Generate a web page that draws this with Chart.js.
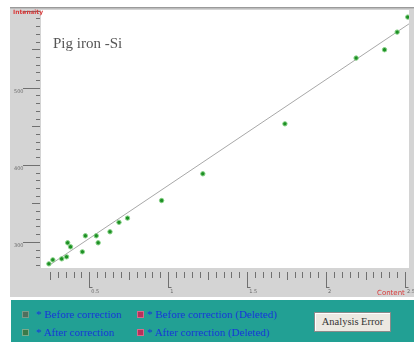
<!DOCTYPE html>
<html>
<head>
<meta charset="utf-8">
<script src="https://cdn.jsdelivr.net/npm/chart.js@4/dist/chart.umd.min.js"></script>
<style>
  html, body { margin: 0; padding: 0; background: #ffffff; }
  #wrap { position: relative; width: 414px; height: 342px; overflow: hidden; }
  #c { position: absolute; left: 0; top: 0; }
  #panel { position: absolute; left: 11px; top: 300px; width: 403px; height: 42px; background: #22a094; }
  .item { position: absolute; font-family: "Liberation Serif", serif; font-size: 11px; color: #1638d8; white-space: nowrap; line-height: 11px; }
  .mk { position: absolute; width: 5px; height: 5px; border: 1px solid; }
  #btn { position: absolute; left: 303px; top: 12px; width: 75px; height: 18px; background: #ece9e2; border: 1px solid #8a8a8a; box-shadow: inset 1px 1px 0 #fff; font-family: "Liberation Serif", serif; font-size: 10.5px; color: #333; text-align: center; line-height: 18px; }
</style>
</head>
<body>
<div id="wrap">
  <canvas id="c" width="414" height="342"></canvas>
  <div id="panel">
    <div class="mk" style="left:11px;top:11px;background:#4f6f5f;border-color:#7a9a8a;"></div>
    <div class="item" style="left:25px;top:9px;">* Before correction</div>
    <div class="mk" style="left:126px;top:11px;background:#b8305a;border-color:#d86a8a;"></div>
    <div class="item" style="left:136px;top:9px;">* Before correction (Deleted)</div>
    <div class="mk" style="left:11px;top:29px;background:#3a7a4a;border-color:#7aaa8a;"></div>
    <div class="item" style="left:25px;top:27px;">* After correction</div>
    <div class="mk" style="left:126px;top:29px;background:#b8305a;border-color:#d86a8a;"></div>
    <div class="item" style="left:136px;top:27px;">* After correction (Deleted)</div>
    <div id="btn">Analysis Error</div>
  </div>
</div>
<script>
// ---- data ----
const contentX = [0.244, 0.269, 0.325, 0.356, 0.363, 0.381, 0.456, 0.475, 0.544, 0.556,
                  0.631, 0.688, 0.742, 0.958, 1.219, 1.739, 2.19, 2.37, 2.45, 2.517];
const intensityY = [271.4, 276.6, 277.9, 280.5, 298.7, 293.5, 287.0, 307.8, 307.8, 298.7,
                    313.0, 325.3, 330.8, 353.6, 388.3, 453.2, 538.6, 549.4, 572.3, 591.8];
const fitX = [0.25, 2.525];
const fitY = [270, 583];
const xTickValues = [0.5, 1, 1.5, 2, 2.5];
const xTickLabels = ["0.5", "1", "1.5", "2", "2.5"];
const yTickValues = [300, 400, 500];
const yTickLabels = ["300", "400", "500"];
const chartTitle = "Pig iron -Si";
const yAxisTitle = "Intensity";
const xAxisTitle = "Content";

const points = contentX.map((x, i) => ({ x: x, y: intensityY[i] }));
const fitLine = fitX.map((x, i) => ({ x: x, y: fitY[i] }));

const frame = {
  id: 'frame',
  beforeDraw(chart) {
    const ctx = chart.ctx, a = chart.chartArea;
    ctx.save();
    ctx.fillStyle = '#ffffff';
    ctx.fillRect(0, 0, chart.width, chart.height);
    ctx.fillStyle = '#d4d4d4';
    ctx.fillRect(10, 8, chart.width - 10, 289);
    ctx.strokeStyle = '#9a9a9a';
    ctx.lineWidth = 1;
    ctx.beginPath(); ctx.moveTo(10, 7.5); ctx.lineTo(chart.width, 7.5); ctx.stroke();
    ctx.strokeStyle = '#bdbdbd';
    ctx.beginPath(); ctx.moveTo(10, 8.5); ctx.lineTo(chart.width, 8.5); ctx.stroke();
    ctx.fillStyle = '#ffffff';
    ctx.fillRect(a.left, a.top, a.right - a.left, a.bottom - a.top);
    ctx.restore();
  },
  afterDraw(chart) {
    const ctx = chart.ctx, a = chart.chartArea;
    const xs = chart.scales.x, ys = chart.scales.y;
    ctx.save();
    ctx.strokeStyle = '#707070';
    ctx.lineWidth = 1;
    // y ticks
    for (let i = 0; i <= 33; i++) {
      const v = 270 + i * 10;
      const y = Math.round(ys.getPixelForValue(v)) + 0.5;
      if (y < a.top || y > a.bottom) continue;
      let x0 = a.left - 5;
      if (v % 100 === 0) x0 = 23; else if (v % 50 === 0) x0 = a.left - 9;
      ctx.beginPath(); ctx.moveTo(x0, y); ctx.lineTo(a.left - 1, y); ctx.stroke();
    }
    // x ticks
    for (let i = 5; i <= 50; i++) {
      const v = i * 0.05;
      const x = Math.round(xs.getPixelForValue(v)) + 0.5;
      let y1 = a.bottom + 10;
      if (i % 10 === 0) y1 = a.bottom + 20; else if (i % 5 === 0) y1 = a.bottom + 12;
      ctx.beginPath(); ctx.moveTo(x, a.bottom + 4); ctx.lineTo(x, y1); ctx.stroke();
      if (i % 10 === 0) { ctx.beginPath(); ctx.moveTo(x, y1 - 0.5); ctx.lineTo(x + 3, y1 - 0.5); ctx.stroke(); }
    }
    // tick labels
    ctx.fillStyle = '#6a6a6a';
    ctx.font = '5px "DejaVu Sans"';
    ctx.textBaseline = 'top';
    ctx.textAlign = 'left';
    yTickValues.forEach((v, i) => {
      const y = ys.getPixelForValue(v);
      ctx.fillText(yTickLabels[i], 14, y + 1);
    });
    xTickValues.forEach((v, i) => {
      const x = xs.getPixelForValue(v);
      ctx.fillText(xTickLabels[i], x + 2, a.bottom + 21);
    });
    // axis titles
    ctx.fillStyle = '#d83a3a';
    ctx.font = 'bold 6px "DejaVu Sans"';
    ctx.fillText(yAxisTitle, 13, 9);
    ctx.font = '7px "DejaVu Sans"';
    ctx.fillText(xAxisTitle, 377, 290);
    // chart title
    ctx.fillStyle = '#555555';
    ctx.font = '15px "Liberation Serif"';
    ctx.textBaseline = 'alphabetic';
    ctx.fillText(chartTitle, 53, 48);
    ctx.restore();
  }
};

new Chart(document.getElementById('c'), {
  type: 'scatter',
  data: {
    datasets: [
      {
        type: 'line',
        data: fitLine,
        borderColor: '#a8a8a8',
        borderWidth: 1,
        pointRadius: 0,
        fill: false,
        order: 2
      },
      {
        data: points,
        backgroundColor: '#1d8f24',
        borderColor: '#8ad48a',
        borderWidth: 1,
        pointRadius: 2.2,
        order: 1
      }
    ]
  },
  options: {
    responsive: false,
    animation: false,
    layout: { padding: { left: 41, top: 10, right: 0, bottom: 74 } },
    plugins: { legend: { display: false }, tooltip: { enabled: false }, title: { display: false } },
    scales: {
      x: { type: 'linear', min: 0.194, max: 2.525, display: false },
      y: { type: 'linear', min: 266, max: 601, display: false }
    }
  },
  plugins: [frame]
});
</script>
</body>
</html>
